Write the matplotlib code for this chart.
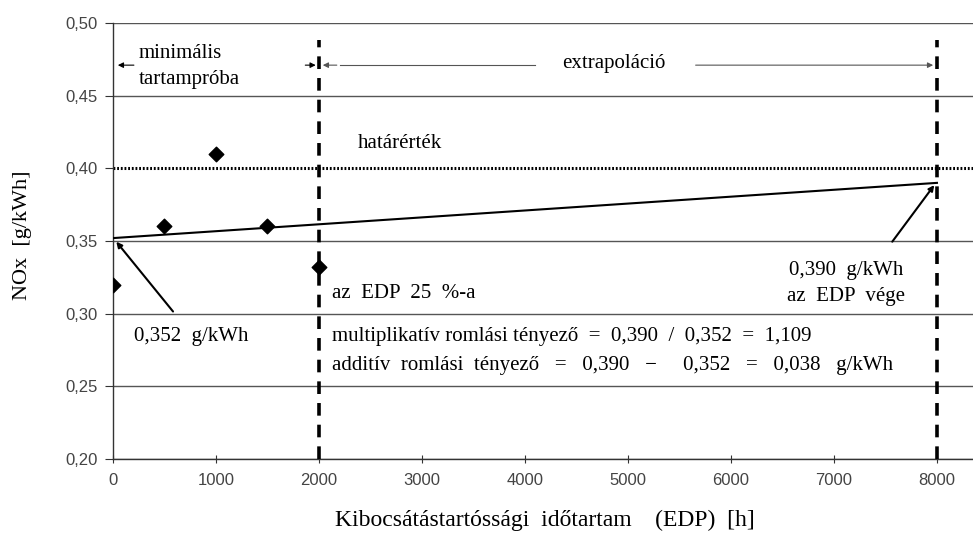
import matplotlib
matplotlib.use("Agg")
import matplotlib.pyplot as plt

# Measured NOx emissions during the minimal durability test
hours = [0, 500, 1000, 1500, 2000]
nox = [0.320, 0.360, 0.410, 0.360, 0.332]

# Fitted deterioration line: start value and value at end of EDP
fit_x = [0, 8000]
fit_y = [0.352, 0.390]

limit_value = 0.40
edp_quarter = 2000
edp_end = 8000

xticks = [0, 1000, 2000, 3000, 4000, 5000, 6000, 7000, 8000]
yticks = [0.20, 0.25, 0.30, 0.35, 0.40, 0.45, 0.50]

serif = "Liberation Serif"
sans = "Liberation Sans"
fs = 15

fig = plt.figure(figsize=(9.73, 5.37), dpi=100)
ax = fig.add_axes([113 / 973, 1 - 459 / 537, 1 - 113 / 973, (459 - 23) / 537])

ax.set_xlim(0, 8350)
ax.set_ylim(0.20, 0.50)

# horizontal grid
for y in yticks:
    if y != limit_value:
        ax.axhline(y, color="#555555", lw=1.0, zorder=1)

# limit line
ax.axhline(limit_value, color="black", lw=2.2, ls=(0, (0.6, 0.6)), zorder=2)

# EDP boundaries
ax.plot([edp_quarter, edp_quarter], [0.20, 0.488], color="black", lw=2.6,
        ls=(0, (3.5, 2.5)), zorder=3)
ax.plot([edp_end, edp_end], [0.20, 0.488], color="black", lw=2.6,
        ls=(0, (3.5, 2.5)), zorder=3)

# deterioration line and measurements
ax.plot(fit_x, fit_y, color="black", lw=1.5, zorder=4)
ax.scatter(hours, nox, marker="D", s=55, color="black", zorder=5)

# phase arrows
arr = dict(arrowstyle="-|>", color="black", lw=0.8, mutation_scale=8)
ax.annotate("", xy=(20, 0.471), xytext=(230, 0.471), arrowprops=arr)
ax.annotate("", xy=(1995, 0.471), xytext=(1840, 0.471), arrowprops=arr)
ax.annotate("", xy=(2010, 0.471), xytext=(2200, 0.471),
            arrowprops=dict(arrowstyle="-|>", color="#555555", lw=0.8, mutation_scale=8))
ax.plot([2200, 4100], [0.471, 0.471], color="#555555", lw=0.8)
ax.annotate("", xy=(7990, 0.471), xytext=(5630, 0.471),
            arrowprops=dict(arrowstyle="-|>", color="#555555", lw=0.8, mutation_scale=8))

ax.text(250, 0.479, "minimális", family=serif, fontsize=fs, va="center", ha="left")
ax.text(250, 0.461, "tartampróba", family=serif, fontsize=fs, va="center", ha="left")
ax.text(4860, 0.472, "extrapoláció", family=serif, fontsize=fs, va="center", ha="center")
ax.text(2380, 0.417, "határérték", family=serif, fontsize=fs, va="center", ha="left")

# value callouts
ax.annotate("", xy=(15, 0.351), xytext=(600, 0.300),
            arrowprops=dict(arrowstyle="-|>", color="black", lw=1.5, mutation_scale=8))
ax.annotate("", xy=(7990, 0.390), xytext=(7550, 0.348),
            arrowprops=dict(arrowstyle="-|>", color="black", lw=1.5, mutation_scale=8))

ax.text(200, 0.284, "0,352  g/kWh", family=serif, fontsize=fs, va="center", ha="left")
ax.text(7120, 0.330, "0,390  g/kWh", family=serif, fontsize=fs, va="center", ha="center")
ax.text(7120, 0.312, "az  EDP  vége", family=serif, fontsize=fs, va="center", ha="center")
ax.text(2130, 0.314, "az  EDP  25  %-a", family=serif, fontsize=fs, va="center", ha="left")
ax.text(2130, 0.284, "multiplikatív romlási tényező  =  0,390  /  0,352  =  1,109",
        family=serif, fontsize=fs, va="center", ha="left")
ax.text(2130, 0.264, "additív  romlási  tényező   =   0,390   −     0,352   =   0,038   g/kWh",
        family=serif, fontsize=fs, va="center", ha="left")

# axes styling
for side in ("top", "right"):
    ax.spines[side].set_visible(False)
ax.spines["left"].set_color("#333333")
ax.spines["bottom"].set_color("#333333")
ax.spines["left"].set_linewidth(1.0)
ax.spines["bottom"].set_linewidth(1.0)

ax.set_xticks(xticks)
ax.set_xticklabels([str(v) for v in xticks])
ax.set_yticks(yticks)
ax.set_yticklabels([f"{v:.2f}".replace(".", ",") for v in yticks])
ax.tick_params(axis="x", direction="inout", length=6, color="#333333",
               labelsize=12, labelcolor="#444444", pad=7)
ax.tick_params(axis="y", direction="out", length=6, color="#333333",
               labelsize=12, labelcolor="#444444", pad=5)
for lab in ax.get_xticklabels() + ax.get_yticklabels():
    lab.set_family(sans)

ax.set_ylabel("NOx  [g/kWh]", family=serif, fontsize=16)
ax.yaxis.set_label_coords(-(113 - 23) / (973 - 113), (459 - 235) / (459 - 23))
ax.set_xlabel("Kibocsátástartóssági  időtartam    (EDP)  [h]", family=serif,
              fontsize=17)
ax.xaxis.set_label_coords((545 - 113) / (973 - 113), -(520 - 459) / (459 - 23))
ax.xaxis.label.set_va("center")
ax.yaxis.label.set_va("center")

fig.savefig("out.png", dpi=100)
